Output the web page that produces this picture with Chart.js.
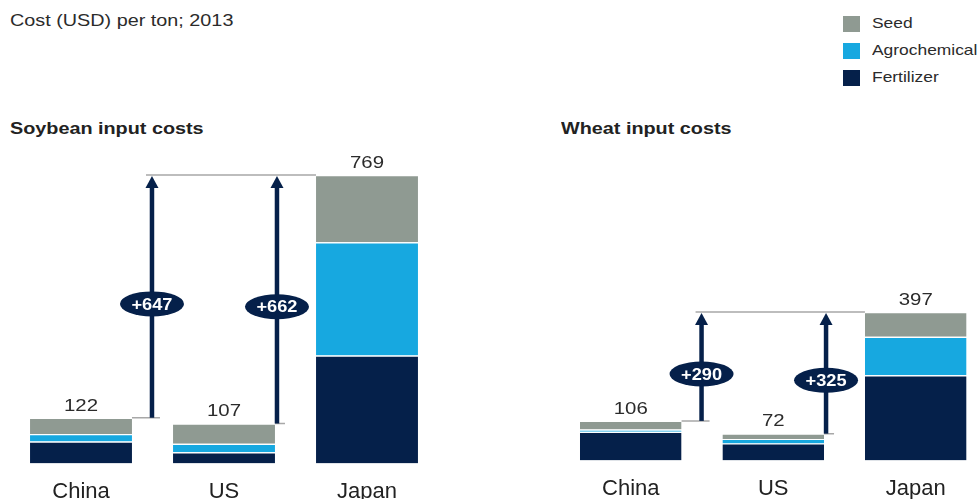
<!DOCTYPE html>
<html>
<head>
<meta charset="utf-8">
<script src="https://cdn.jsdelivr.net/npm/chart.js@4.4.0/dist/chart.umd.min.js"></script>
<style>
  html, body { margin: 0; padding: 0; width: 979px; height: 499px; overflow: hidden; background: #fff; }
  body { position: relative; font-family: "Liberation Sans", Arial, sans-serif; color: #2b2b2b; }
  .txt { position: absolute; white-space: nowrap; transform: scaleX(1.2); transform-origin: left top; }
  .subtitle { left: 10px; top: 11px; font-size: 16.5px; }
  .title { top: 119px; font-size: 16.5px; font-weight: bold; color: #222; }
  .legend { position: absolute; left: 843px; top: 16px; font-size: 14.5px; }
  .legend div { position: relative; height: 27px; }
  .legend span.box { position: absolute; left: 0; top: 0; width: 17px; height: 16px; }
  .legend span.lbl { position: absolute; left: 29px; top: -1px; white-space: nowrap; transform: scaleX(1.2); transform-origin: left top; }
  .wrap { position: absolute; top: 0; }
</style>
</head>
<body>
<div class="txt subtitle">Cost (USD) per ton; 2013</div>
<div class="txt title" style="left:10px">Soybean input costs</div>
<div class="txt title" style="left:561px">Wheat input costs</div>
<div class="legend" id="legend"></div>

<div class="wrap" style="left:0; width:440px; height:512px"><canvas id="soyChart"></canvas></div>
<div class="wrap" style="left:559px; width:430px; height:509px"><canvas id="wheatChart"></canvas></div>

<script>
// Data (USD per ton, 2013)
const countries = ['China', 'US', 'Japan'];

const soySeed = [43, 54, 179];
const soyAgro = [20, 23, 302];
const soyFert = [59, 30, 288];
const soyTotals = [122, 107, 769];
const soyGaps = ['+647', '+662'];

const wheatSeed = [23, 14, 66];
const wheatAgro = [6, 12, 103];
const wheatFert = [77, 46, 228];
const wheatTotals = [106, 72, 397];
const wheatGaps = ['+290', '+325'];

const seriesNames = ['Seed', 'Agrochemical', 'Fertilizer'];
const colors = { Seed: '#8f9a92', Agrochemical: '#17a8e0', Fertilizer: '#05204a' };
const navy = '#05204a';

// Legend
const legend = document.querySelector('#legend');
seriesNames.forEach((name) => {
  const row = document.createElement('div');
  row.innerHTML = `<span class="box" style="background:${colors[name]}"></span><span class="lbl">${name}</span>`;
  legend.appendChild(row);
});

// text in the reference is a bit wider than normal, so stretch it
function wideText(ctx, text, x, y, sx) {
  ctx.save();
  ctx.translate(x, y);
  ctx.scale(sx, 1);
  ctx.fillText(text, 0, 0);
  ctx.restore();
}

// Draws totals above bars, connector lines, arrows and difference bubbles
const gapPlugin = {
  id: 'gapPlugin',
  afterDatasetsDraw(chart, args, opts) {
    const ctx = chart.ctx;
    const y = chart.scales.y;
    const bars = chart.getDatasetMeta(0).data;
    const totals = opts.totals;
    const topIdx = totals.length - 1;
    const topY = y.getPixelForValue(totals[topIdx]);
    const japanLeft = bars[topIdx].x - bars[topIdx].width / 2;

    ctx.save();
    // totals above bars
    ctx.fillStyle = '#2b2b2b';
    ctx.font = '17px "Liberation Sans", Arial, sans-serif';
    ctx.textAlign = 'center';
    ctx.textBaseline = 'middle';
    totals.forEach((t, i) => {
      wideText(ctx, String(t), bars[i].x, y.getPixelForValue(t) - 12, 1.2);
    });

    const arrowXs = opts.gaps.map((g, i) => bars[i].x + bars[i].width / 2 + opts.arrowOffsets[i]);

    // grey connector lines
    ctx.strokeStyle = '#a8a8a8';
    ctx.lineWidth = 1.5;
    ctx.beginPath();
    ctx.moveTo(arrowXs[0] - 6, topY);
    ctx.lineTo(japanLeft, topY);
    opts.gaps.forEach((g, i) => {
      const by = y.getPixelForValue(totals[i]);
      ctx.moveTo(bars[i].x + bars[i].width / 2, by);
      ctx.lineTo(arrowXs[i] + 8, by);
    });
    ctx.stroke();

    // arrows + bubbles
    opts.gaps.forEach((g, i) => {
      const ax = arrowXs[i];
      const by = y.getPixelForValue(totals[i]);
      ctx.strokeStyle = navy;
      ctx.fillStyle = navy;
      ctx.lineWidth = 4.5;
      ctx.beginPath();
      ctx.moveTo(ax, by);
      ctx.lineTo(ax, topY + 10);
      ctx.stroke();
      ctx.beginPath();
      ctx.moveTo(ax, topY + 1);
      ctx.lineTo(ax - 6.5, topY + 13);
      ctx.lineTo(ax + 6.5, topY + 13);
      ctx.closePath();
      ctx.fill();

      const cy = (by + topY) / 2 + 7.5;
      ctx.beginPath();
      ctx.ellipse(ax, cy, 32, 12.5, 0, 0, Math.PI * 2);
      ctx.fill();
      ctx.fillStyle = '#fff';
      ctx.font = 'bold 17px "Liberation Sans", Arial, sans-serif';
      wideText(ctx, g, ax, cy + 1, 1.07);
    });
    ctx.restore();
  }
};

function makeChart(canvas, seed, agro, fert, totals, gaps, padding) {
  const ds = (label, data) => ({
    label: label,
    data: data,
    backgroundColor: colors[label],
    borderColor: '#ffffff',
    borderWidth: { top: 1.2, right: 0, bottom: 0, left: 0 },
    borderSkipped: false,
    barPercentage: 1,
    categoryPercentage: 0.713
  });
  return new Chart(canvas, {
    type: 'bar',
    data: {
      labels: countries,
      datasets: [ds('Fertilizer', fert), ds('Agrochemical', agro), ds('Seed', seed)]
    },
    options: {
      responsive: true,
      maintainAspectRatio: false,
      animation: false,
      layout: { padding: padding },
      plugins: {
        legend: { display: false },
        tooltip: { enabled: false },
        gapPlugin: { totals: totals, gaps: gaps, arrowOffsets: [20, 2] }
      },
      scales: {
        x: {
          stacked: true,
          grid: { display: false },
          border: { display: false },
          ticks: {
            color: '#222',
            padding: 7,
            font: { family: '"Liberation Sans", Arial, sans-serif', size: 22, lineHeight: 1.2 }
          }
        },
        y: {
          stacked: true,
          display: false,
          min: 0,
          max: Math.max(...totals)
        }
      }
    },
    plugins: [gapPlugin]
  });
}

makeChart(document.querySelector('#soyChart'), soySeed, soyAgro, soyFert, soyTotals, soyGaps,
  { top: 175, left: 9.5, right: 1.5, bottom: 0 });
makeChart(document.querySelector('#wheatChart'), wheatSeed, wheatAgro, wheatFert, wheatTotals, wheatGaps,
  { top: 312, left: 0.5, right: 2, bottom: 0 });
</script>
</body>
</html>
